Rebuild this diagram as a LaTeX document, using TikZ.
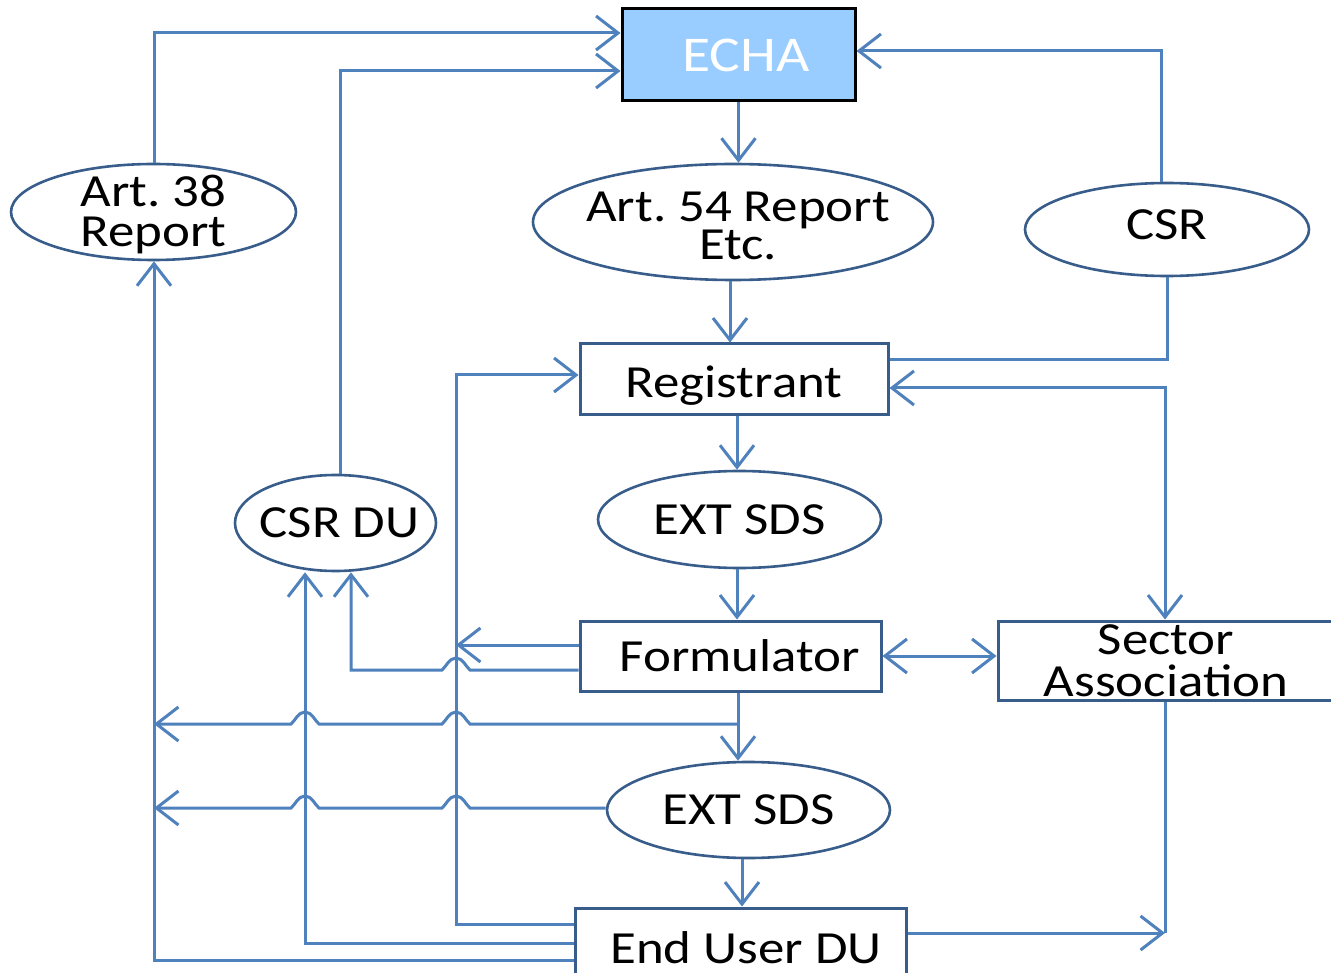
\documentclass[tikz,border=0pt]{standalone}
\usepackage{fontspec}
\setmainfont{Carlito}[FakeStretch=1.15]
\usetikzlibrary{arrows.meta,shapes.geometric}
\definecolor{clink}{RGB}{79,129,189}
\definecolor{shp}{RGB}{56,93,138}
\definecolor{echafill}{RGB}{153,204,255}
\newcommand\shiftv[2]{\raisebox{#1}[\height][\depth]{\begin{tabular}{@{}c@{}}#2\end{tabular}}}
\begin{document}
\begin{tikzpicture}[x=1pt,y=-1pt,
  txt/.style={font=\fontsize{46}{42}\selectfont,text=black,align=center},
  box/.style={txt,draw=shp,line width=3pt,rectangle,inner sep=0pt},
  ell/.style={txt,draw=shp,line width=2.6pt,ellipse,inner xsep=-60pt,inner ysep=-40pt},
  cl/.style={draw=clink,line width=3pt},
  >={Straight Barb[length=22pt,width=34pt]},
  arr/.style={cl,->},
  arrtwo/.style={cl,<->}]
\clip (0,0) rectangle (1331,973);
\fill[white] (0,0) rectangle (1331,973);
\renewcommand\arraystretch{1}
\setlength\tabcolsep{0pt}
% nodes
\node[box,draw=black,fill=echafill,minimum width=233pt,minimum height=92pt,font=\fontsize{50}{50}\selectfont,text=white] (echa) at (738.5,55) {\kern15pt ECHA};
\node[ell,minimum width=285pt,minimum height=96pt] (art38) at (153.5,212) {\shiftv{-5pt}{Art.\ 38\\[-2pt]Report}};
\node[ell,minimum width=400pt,minimum height=116pt] (art54) at (733,222) {\shiftv{-10pt}{\kern10pt Art.\ 54 Report\\[-4pt]\kern10pt Etc.}};
\node[ell,minimum width=284pt,minimum height=93pt] (csr) at (1167,229.5) {\shiftv{-1pt}{CSR}};
\node[box,minimum width=308pt,minimum height=71pt] (reg) at (734,379.5) {\shiftv{-8pt}{Registrant}};
\node[ell,minimum width=283pt,minimum height=97pt] (ext1) at (739.5,519.5) {EXT SDS};
\node[ell,minimum width=201pt,minimum height=96pt] (csrdu) at (335.5,523) {\kern8pt CSR DU};
\node[box,minimum width=301pt,minimum height=70pt] (form) at (730.5,656) {\kern19pt Formulator};
\node[box,minimum width=336pt,minimum height=79pt] (sector) at (1166,660.5) {Sector\\Association};
\node[ell,minimum width=283pt,minimum height=96pt] (ext2) at (748.5,810) {EXT SDS};
\node[box,minimum width=331pt,minimum height=80pt] (eu) at (740.5,948) {\kern11pt End User DU};
% connectors to ECHA
\draw[arr] (154,0 |- art38.north) -- (154,33) -- (echa.west |- 0,33);
\draw[arr] (340,0 |- csrdu.north) -- (340,71) -- (echa.west |- 0,71);
\draw[arr] (1161,0 |- csr.north) -- (1161,51) -- (echa.east |- 0,51);
\draw[arr] (echa.south) -- (echa.south |- art54.north);
\draw[arr] (730,0 |- art54.south) -- (730,0 |- reg.north);
\draw[cl] (csr.south) -- (csr.south |- 0,360) -- (reg.east |- 0,360);
\draw[arrtwo] (reg.east |- 0,388) -- (1165,388) -- (1165,0 |- sector.north);
\draw[arr] (737,0 |- reg.south) -- (737,0 |- ext1.north);
\draw[arr] (737,0 |- ext1.south) -- (737,0 |- form.north);
\draw[arrtwo] (form.east) -- (sector.west |- form.east);
% formulator to the left
\draw[arr] (form.west |- 0,645) -- (456,645);
\draw[arr] (form.west |- 0,670) -- (470,670)
  .. controls (466,667) and (463,658) .. (456,658) .. controls (449,658) and (446,667) .. (442,670)
  -- (351,670) -- (351,0 |- csrdu.south);
\coordinate (jf) at (738,724);
\draw[arr] (738,0 |- form.south) -- (738,0 |- ext2.north);
\draw[arr] (jf) -- (470,724)
  .. controls (466,721) and (463,712) .. (456,712) .. controls (449,712) and (446,721) .. (442,724)
  -- (319,724)
  .. controls (315,721) and (312,712) .. (305,712) .. controls (298,712) and (295,721) .. (291,724)
  -- (154,724);
\draw[arr] (ext2.west |- 0,808) -- (470,808)
  .. controls (466,805) and (463,796) .. (456,796) .. controls (449,796) and (446,805) .. (442,808)
  -- (319,808)
  .. controls (315,805) and (312,796) .. (305,796) .. controls (298,796) and (295,805) .. (291,808)
  -- (154,808);
\draw[arr] (742,0 |- ext2.south) -- (742,0 |- eu.north);
% end user connectors
\coordinate (jsa) at (1165,933);
\draw[cl] (1165,0 |- sector.south) -- (jsa);
\draw[arr] (eu.east |- jsa) -- (jsa);
\draw[arr] (eu.west |- 0,924) -- (456,924) -- (456,375) -- (reg.west |- 0,375);
\draw[arr] (eu.west |- 0,943) -- (305,943) -- (305,0 |- csrdu.south);
\draw[arr] (eu.west |- 0,960) -- (154,960) -- (154,0 |- art38.south);
\end{tikzpicture}
\end{document}
